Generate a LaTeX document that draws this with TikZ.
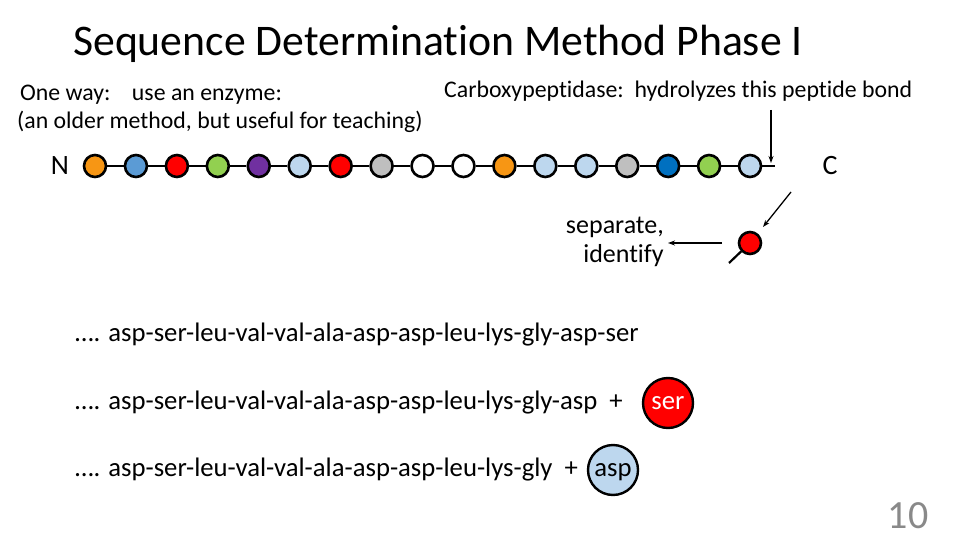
\documentclass[tikz,border=0pt]{standalone}
\usepackage{fontspec}
\setmainfont[Ligatures={NoCommon}]{Carlito}
\usetikzlibrary{arrows.meta}
\definecolor{corange}{RGB}{247,150,20}
\definecolor{cblue}{RGB}{91,155,213}
\definecolor{cred}{RGB}{255,0,0}
\definecolor{cgreen}{RGB}{146,208,80}
\definecolor{cpurple}{RGB}{112,48,160}
\definecolor{clb}{RGB}{189,215,238}
\definecolor{cgray}{RGB}{191,191,191}
\definecolor{cdblue}{RGB}{0,112,192}
\definecolor{pagegray}{RGB}{137,137,137}
\tikzset{
  res/.style={circle,draw=black,line width=2.6pt,minimum size=22pt,inner sep=0pt,fill=#1},
  bond/.style={line width=2.6pt},
  arr/.style={line width=1.3pt,-{Stealth[length=7pt,width=5pt]}},
  txt/.style={inner sep=0pt,font=\fontsize{23.8}{28}\selectfont},
  seq/.style={inner sep=0pt,font=\fontsize{26.7}{30}\selectfont,anchor=west},
  big/.style={circle,draw=black,line width=2.4pt,minimum width=50pt,minimum height=46pt,inner sep=0pt,font=\fontsize{26.7}{30}\selectfont,text height=12pt,text depth=0pt},
}
\begin{document}
\begin{tikzpicture}[x=1pt,y=-1pt]
\useasboundingbox (0,0) rectangle (960,540);
\node[inner sep=0pt,anchor=west,font=\fontsize{43.7}{48}\selectfont] (title) at (73,44) {Sequence Determination Method Phase I};
\node[txt,anchor=west] (way) at (20,95) {One way:\hspace{0.6em} use an enzyme:};
\node[txt,anchor=west] (older) at (17,122) {(an older method, but useful for teaching)};
\node[txt,anchor=west] (carb) at (444,91) {Carboxypeptidase:\ \ hydrolyzes this peptide bond};
\node[inner sep=0pt,font=\fontsize{28}{32}\selectfont] (N) at (60,166) {N};
\node[inner sep=0pt,font=\fontsize{28}{32}\selectfont] (C) at (830,166) {C};
\foreach \c [count=\i] in {corange,cblue,cred,cgreen,cpurple,clb,cred,cgray,white,white,corange,clb,clb,cgray,cdblue,cgreen,clb}{
  \node[res=\c] (r\i) at ({95+(\i-1)*40.94},166) {};
}
\foreach \i [evaluate=\i as \j using int(\i+1)] in {1,...,16}{
  \draw[bond] (r\i) -- (r\j);
}
\coordinate (cend) at (775,166);
\draw[bond] (r17) -- (cend);
\coordinate (atop) at (771,110);
\draw[arr] (atop) -- (771,163);
% freed residue
\node[res=cred] (free) at (750,243) {};
\coordinate (stub) at (729,263);
\draw[line width=2.2pt] (free) -- (stub);
\coordinate (fa) at (791,192);
\coordinate (fb) at (763,227);
\draw[arr] (fa) -- (fb);
\node[inner sep=0pt,font=\fontsize{26}{29}\selectfont,align=right,anchor=east] (sep) at (664,242) {separate,\\ identify};
\coordinate (la) at (722,243);
\draw[arr] (la) -- ([xshift=4pt]sep.east |- la);
% sequences
\node[seq] (s1) at (75,335) {…. asp-ser-leu-val-val-ala-asp-asp-leu-lys-gly-asp-ser};
\node[seq] (s2) at (75,403) {…. asp-ser-leu-val-val-ala-asp-asp-leu-lys-gly-asp\ \ +};
\node[big,fill=cred,text=white] (ser) at (668,403) {ser};
\node[seq] (s3) at (75,470) {…. asp-ser-leu-val-val-ala-asp-asp-leu-lys-gly\ \ +};
\node[big,fill=clb] (asp) at (613,470) {asp};
\node[inner sep=0pt,font=\fontsize{40}{44}\selectfont,text=pagegray] (pg) at (908,516) {10};
\end{tikzpicture}
\end{document}
